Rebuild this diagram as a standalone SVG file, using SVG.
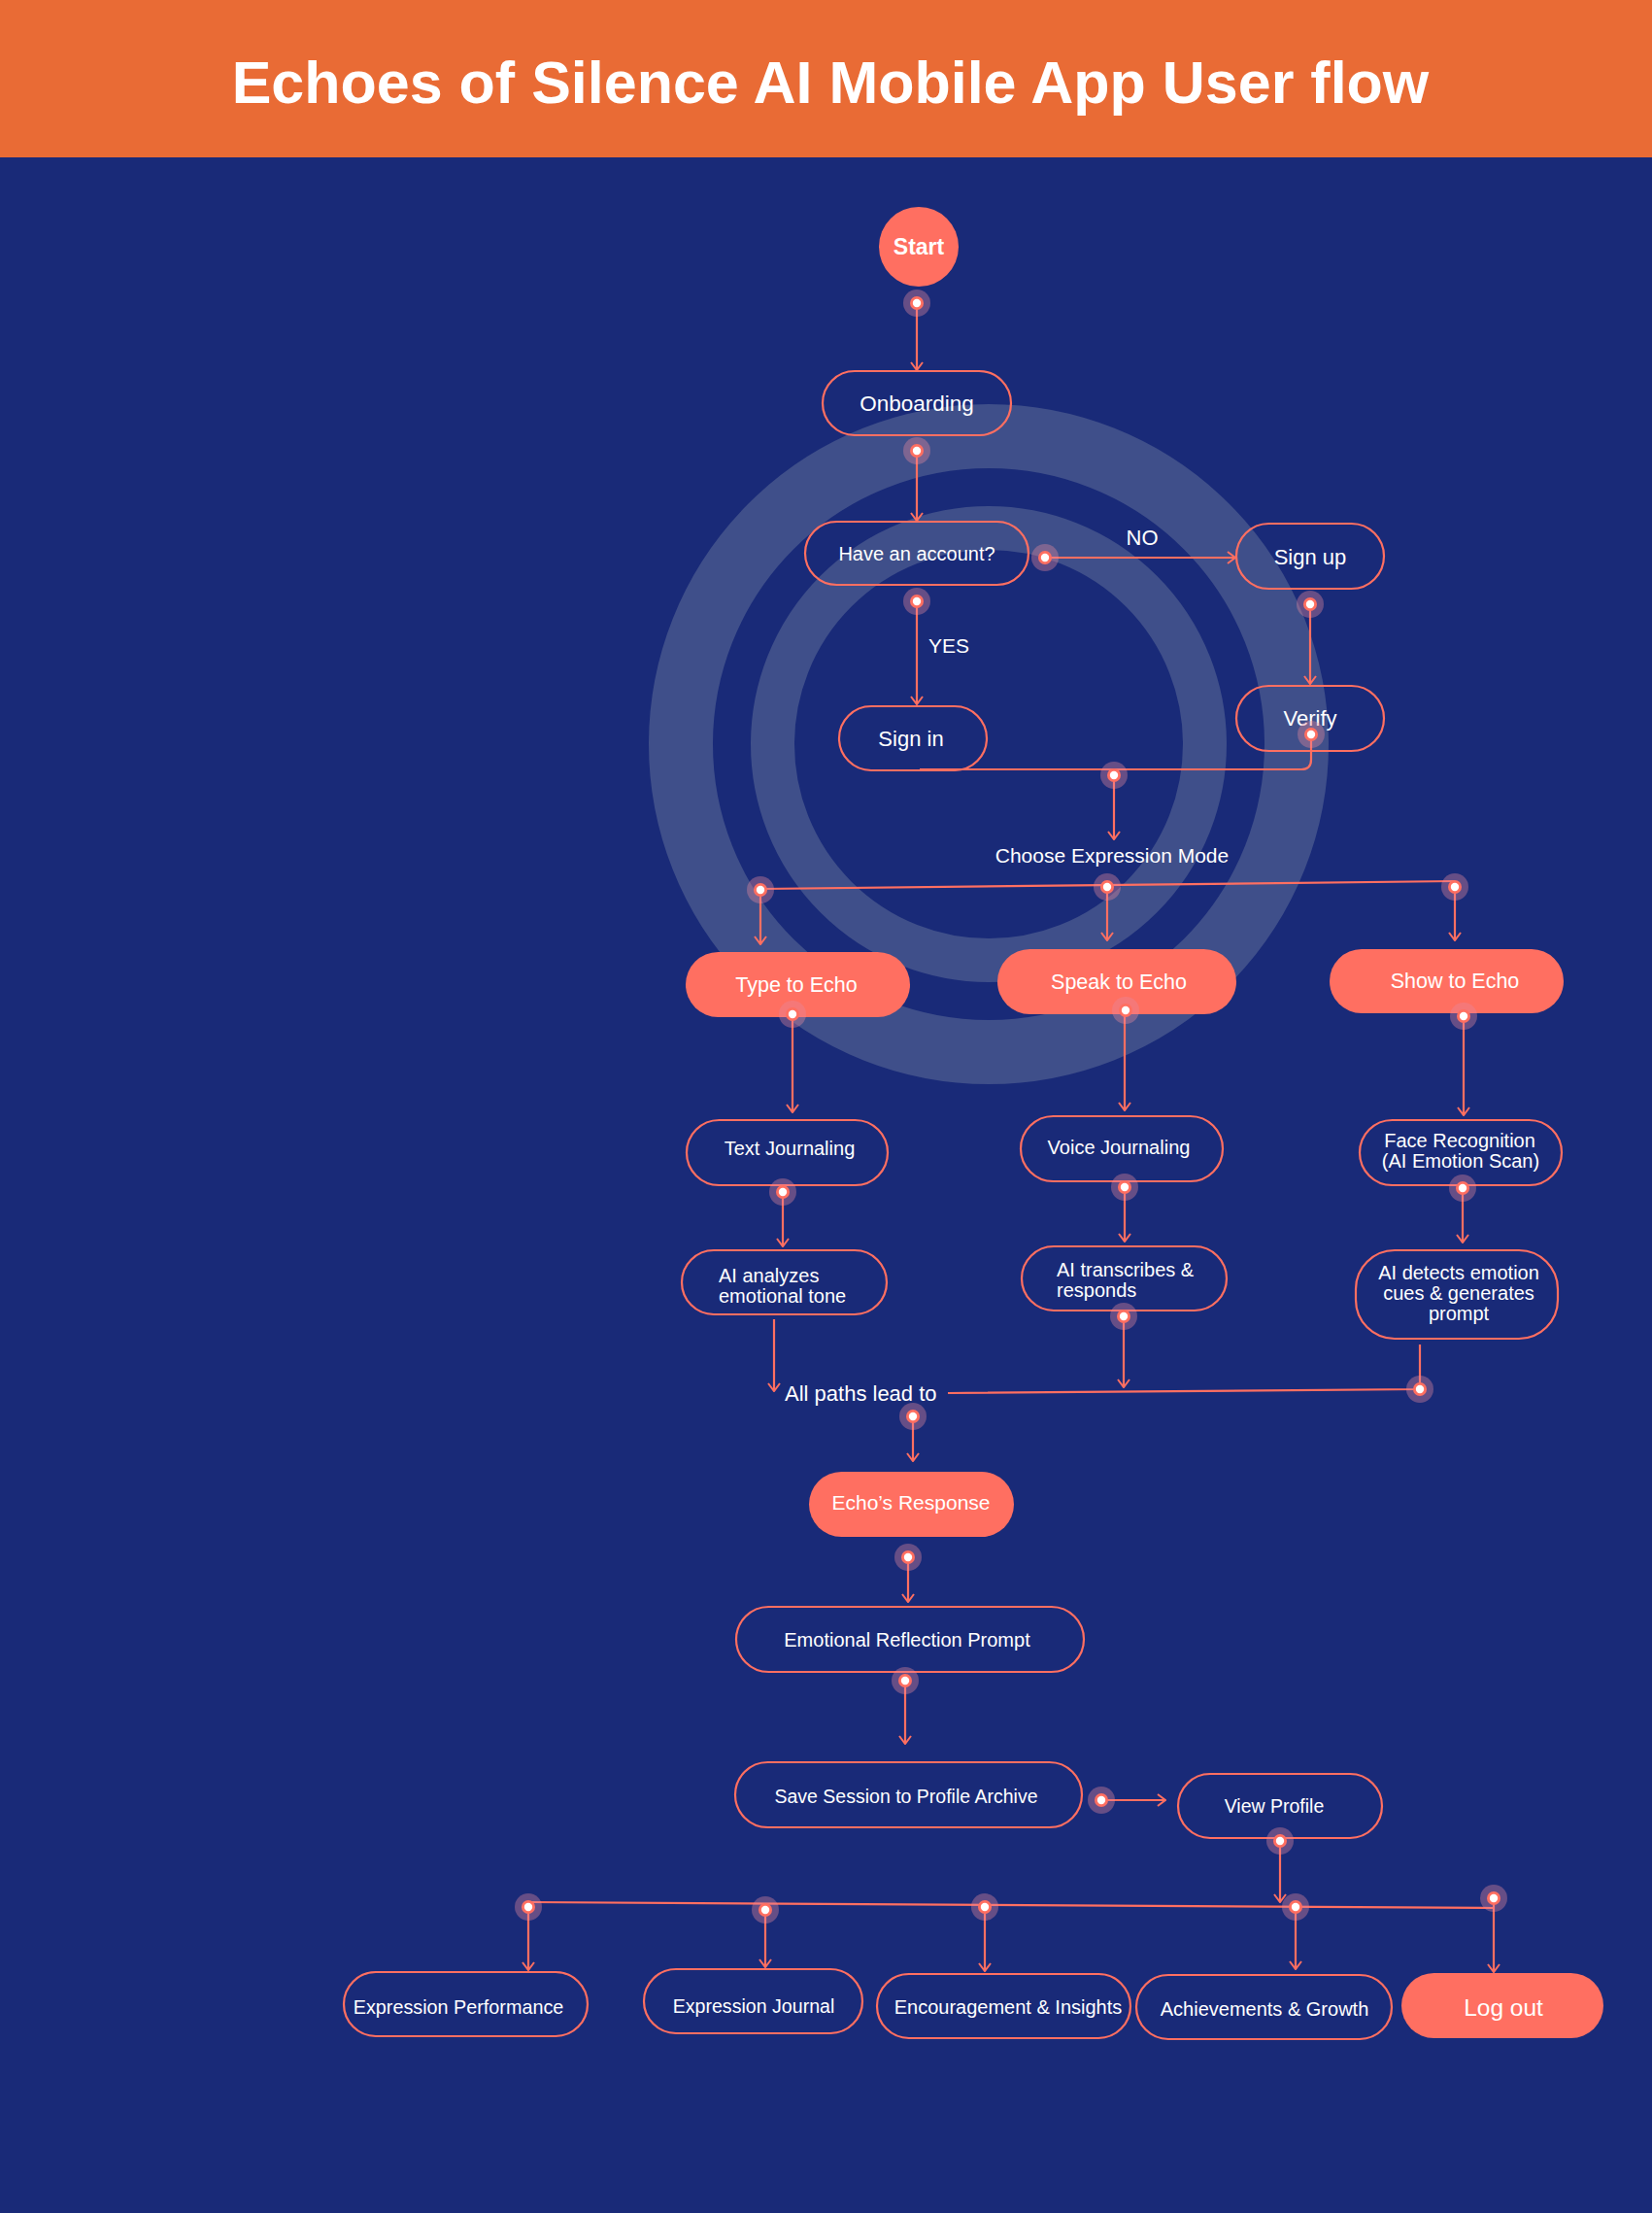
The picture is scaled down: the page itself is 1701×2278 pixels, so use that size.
<svg xmlns="http://www.w3.org/2000/svg" xmlns:xlink="http://www.w3.org/1999/xlink" width="1701" height="2278" viewBox="0 0 1701 2278">
<style>
.t{font-family:"Liberation Sans",Arial,sans-serif;fill:#fff;text-anchor:middle;dominant-baseline:central}
.tl{font-family:"Liberation Sans",Arial,sans-serif;fill:#fff;text-anchor:start;dominant-baseline:central}
.ob{fill:none;stroke:#FF6F61;stroke-width:2.2}
.fb{fill:#FF6F61}
.ln{fill:none;stroke:#FF6F61;stroke-width:2.2}
.ar{marker-end:url(#arr)}
</style>
<defs>
<marker id="arr" viewBox="0 0 10 14" refX="9" refY="7" markerWidth="10" markerHeight="14" markerUnits="userSpaceOnUse" orient="auto">
<path d="M1,1 L9,7 L1,13" fill="none" stroke="#FF6F61" stroke-width="2"/>
</marker>
<g id="dot">
<circle r="14" fill="#E58A9E" fill-opacity="0.38"/>
<circle r="7" fill="#FF6F61"/>
<circle r="4.2" fill="#fff"/>
</g>
</defs>
<rect x="0" y="0" width="1701" height="2278" fill="#192A78"/>
<g id="decor" fill="none" stroke="#3F4F8A">
<circle cx="1018" cy="766" r="317" stroke-width="66"/>
<circle cx="1018" cy="766" r="222.5" stroke-width="45"/>
</g>
<g id="header">
<rect x="0" y="0" width="1701" height="162" fill="#E96B35"/>
<text x="855" y="106" font-family="Liberation Sans,Arial,sans-serif" font-weight="bold" font-size="61" fill="#fff" text-anchor="middle">Echoes of Silence AI Mobile App User flow</text>
</g>
<g id="n-start"><circle cx="946" cy="254" r="41" class="fb"/><text x="946" y="254" class="t" font-size="23" font-weight="bold">Start</text></g>
<g id="n-onboarding"><rect x="847" y="382" width="194" height="66" rx="33" class="ob"/><text x="944" y="415" class="t" font-size="22.5">Onboarding</text></g>
<g id="n-account"><rect x="829" y="537" width="230" height="65" rx="32.5" class="ob"/><text x="944" y="570" class="t" font-size="20">Have an account?</text></g>
<g id="n-signup"><rect x="1273" y="539" width="152" height="67" rx="33.5" class="ob"/><text x="1349" y="573" class="t" font-size="22">Sign up</text></g>
<g id="n-signin"><rect x="864" y="727" width="152" height="66" rx="33" class="ob"/><text x="938" y="760" class="t" font-size="22">Sign in</text></g>
<g id="n-verify"><rect x="1273" y="706" width="152" height="67" rx="33.5" class="ob"/><text x="1349" y="739" class="t" font-size="22">Verify</text></g>
<g id="n-choose"><text x="1145" y="880" class="t" font-size="21">Choose Expression Mode</text></g>
<g id="n-type"><rect x="706" y="980" width="231" height="67" rx="33.5" class="fb"/><text x="820" y="1014" class="t" font-size="21.5">Type to Echo</text></g>
<g id="n-speak"><rect x="1027" y="977" width="246" height="67" rx="33.5" class="fb"/><text x="1152" y="1011" class="t" font-size="21.5">Speak to Echo</text></g>
<g id="n-show"><rect x="1369" y="977" width="241" height="66" rx="33" class="fb"/><text x="1498" y="1010" class="t" font-size="21.5">Show to Echo</text></g>
<g id="n-textj"><rect x="707" y="1153" width="207" height="67" rx="33.5" class="ob"/><text x="813" y="1182" class="t" font-size="20">Text Journaling</text></g>
<g id="n-voicej"><rect x="1051" y="1149" width="208" height="67" rx="33.5" class="ob"/><text x="1152" y="1181" class="t" font-size="20">Voice Journaling</text></g>
<g id="n-face"><rect x="1400" y="1153" width="208" height="67" rx="33.5" class="ob"/><text x="1503" y="1174" class="t" font-size="20">Face Recognition</text><text x="1504" y="1195" class="t" font-size="20">(AI Emotion Scan)</text></g>
<g id="n-analyzes"><rect x="702" y="1287" width="211" height="66" rx="33" class="ob"/><text x="740" y="1313" class="tl" font-size="20">AI analyzes</text><text x="740" y="1334" class="tl" font-size="20">emotional tone</text></g>
<g id="n-transcribes"><rect x="1052" y="1283" width="211" height="66" rx="33" class="ob"/><text x="1088" y="1307" class="tl" font-size="20">AI transcribes &amp;</text><text x="1088" y="1328" class="tl" font-size="20">responds</text></g>
<g id="n-detects"><rect x="1396" y="1287" width="208" height="91" rx="40" class="ob"/><text x="1502" y="1310" class="t" font-size="20">AI detects emotion</text><text x="1502" y="1331" class="t" font-size="20">cues &amp; generates</text><text x="1502" y="1352" class="t" font-size="20">prompt</text></g>
<g id="n-allpaths"><text x="808" y="1434" class="tl" font-size="22">All paths lead to</text></g>
<g id="n-response"><rect x="833" y="1515" width="211" height="67" rx="33.5" class="fb"/><text x="938" y="1546" class="t" font-size="21">Echo’s Response</text></g>
<g id="n-reflection"><rect x="758" y="1654" width="358" height="67" rx="33.5" class="ob"/><text x="934" y="1688" class="t" font-size="20">Emotional Reflection Prompt</text></g>
<g id="n-save"><rect x="757" y="1814" width="357" height="67" rx="33.5" class="ob"/><text x="933" y="1849" class="t" font-size="19.5">Save Session to Profile Archive</text></g>
<g id="n-profile"><rect x="1213" y="1826" width="210" height="66" rx="33" class="ob"/><text x="1312" y="1859" class="t" font-size="19.5">View Profile</text></g>
<g id="n-perf"><rect x="354" y="2030" width="251" height="66" rx="33" class="ob"/><text x="472" y="2066" class="t" font-size="19.8">Expression Performance</text></g>
<g id="n-journal"><rect x="663" y="2027" width="225" height="66" rx="33" class="ob"/><text x="776" y="2065" class="t" font-size="19.6">Expression Journal</text></g>
<g id="n-encourage"><rect x="903" y="2032" width="261" height="66" rx="33" class="ob"/><text x="1038" y="2066" class="t" font-size="20">Encouragement &amp; Insights</text></g>
<g id="n-achieve"><rect x="1170" y="2033" width="263" height="66" rx="33" class="ob"/><text x="1302" y="2068" class="t" font-size="20">Achievements &amp; Growth</text></g>
<g id="n-logout"><rect x="1443" y="2031" width="208" height="67" rx="33.5" class="fb"/><text x="1548" y="2066" class="t" font-size="24.5">Log out</text></g>
<g id="connectors">
<path class="ln ar" d="M944,312 V381"/>
<path class="ln ar" d="M944,464 V536"/>
<path class="ln ar" d="M1076,574 H1272"/>
<text x="1176" y="553" class="t" font-size="22">NO</text>
<path class="ln ar" d="M944,619 V725"/>
<text x="977" y="664" class="t" font-size="21">YES</text>
<path class="ln ar" d="M1349,622 V704"/>
<path class="ln" d="M1350,756 V782 Q1350,792 1340,792 H947"/>
<path class="ln ar" d="M1147,798 V864"/>
<path class="ln" d="M783,915 L1498,907"/>
<path class="ln ar" d="M783,916 V972"/>
<path class="ln ar" d="M1140,913 V968"/>
<path class="ln ar" d="M1498,908 V968"/>
<path class="ln ar" d="M816,1044 V1145"/>
<path class="ln ar" d="M1158,1040 V1143"/>
<path class="ln ar" d="M1507,1046 V1148"/>
<path class="ln ar" d="M806,1227 V1283"/>
<path class="ln ar" d="M1158,1222 V1278"/>
<path class="ln ar" d="M1506,1223 V1279"/>
<path class="ln ar" d="M797,1358 V1432"/>
<path class="ln ar" d="M1157,1355 V1428"/>
<path class="ln" d="M1462,1384 V1430 L976,1434"/>
<path class="ln ar" d="M940,1458 V1504"/>
<path class="ln ar" d="M935,1603 V1649"/>
<path class="ln ar" d="M932,1730 V1795"/>
<path class="ln ar" d="M1134,1853 H1200"/>
<path class="ln ar" d="M1318,1895 V1958"/>
<path class="ln" d="M544,1958 L1538,1964"/>
<path class="ln ar" d="M544,1963 V2028"/>
<path class="ln ar" d="M788,1966 V2025"/>
<path class="ln ar" d="M1014,1963 V2029"/>
<path class="ln ar" d="M1334,1963 V2027"/>
<path class="ln ar" d="M1538,1954 V2030"/>
<use xlink:href="#dot" x="944" y="312"/>
<use xlink:href="#dot" x="944" y="464"/>
<use xlink:href="#dot" x="1076" y="574"/>
<use xlink:href="#dot" x="944" y="619"/>
<use xlink:href="#dot" x="1349" y="622"/>
<use xlink:href="#dot" x="1350" y="756"/>
<use xlink:href="#dot" x="1147" y="798"/>
<use xlink:href="#dot" x="783" y="916"/>
<use xlink:href="#dot" x="1140" y="913"/>
<use xlink:href="#dot" x="1498" y="913"/>
<use xlink:href="#dot" x="816" y="1044"/>
<use xlink:href="#dot" x="1159" y="1040"/>
<use xlink:href="#dot" x="1507" y="1046"/>
<use xlink:href="#dot" x="806" y="1227"/>
<use xlink:href="#dot" x="1158" y="1222"/>
<use xlink:href="#dot" x="1506" y="1223"/>
<use xlink:href="#dot" x="1157" y="1355"/>
<use xlink:href="#dot" x="1462" y="1430"/>
<use xlink:href="#dot" x="940" y="1458"/>
<use xlink:href="#dot" x="935" y="1603"/>
<use xlink:href="#dot" x="932" y="1730"/>
<use xlink:href="#dot" x="1134" y="1853"/>
<use xlink:href="#dot" x="1318" y="1895"/>
<use xlink:href="#dot" x="544" y="1963"/>
<use xlink:href="#dot" x="788" y="1966"/>
<use xlink:href="#dot" x="1014" y="1963"/>
<use xlink:href="#dot" x="1334" y="1963"/>
<use xlink:href="#dot" x="1538" y="1954"/>
</g>
</svg>
